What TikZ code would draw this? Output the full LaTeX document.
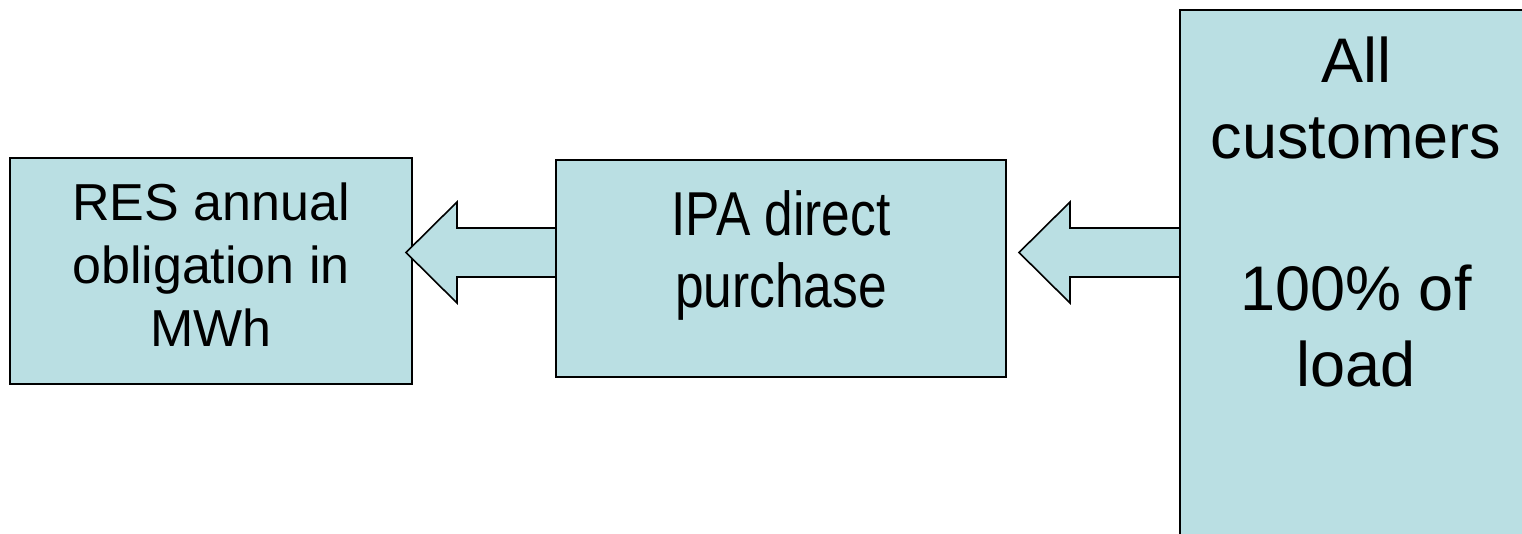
\documentclass[tikz,border=0pt]{standalone}
\usepackage{fontspec}
\setmainfont{Liberation Sans}
\newfontfamily\narrowfont[FakeStretch=0.83]{Liberation Sans}
\usetikzlibrary{calc}
\definecolor{boxfill}{HTML}{BADFE3}
\begin{document}
\begin{tikzpicture}[x=1pt,y=-1pt,
  box/.style={draw=black, line width=2.5pt, fill=boxfill, inner sep=0pt, outer sep=0pt},
  blockarrow/.style={draw=black, line width=1.6pt, fill=boxfill, line join=miter},
  label/.style={align=center, inner sep=0pt, text=black}]
\useasboundingbox (0,0) rectangle (1522,533);
\clip (0,0) rectangle (1522,533);

% boxes
\node[box, minimum width=402pt, minimum height=226pt] (b1) at (211,271) {};
\node[box, minimum width=450pt, minimum height=217pt] (b2) at (781,268.5) {};
\node[box, minimum width=365pt, minimum height=550pt] (b3) at (1362.5,285) {};

% box texts
\node[label, font=\fontsize{52}{63}\selectfont] (t1) at (211,264.5)
  {RES annual\\obligation in\\MWh};
\node[label, font=\narrowfont\fontsize{62}{72}\selectfont] (t2) at (781,255)
  {IPA direct\\purchase};
\node[label, font=\fontsize{63}{76}\selectfont] (t3) at (1356,212)
  {All\\customers\\[76pt]100\% of\\load};

% arrow tips
\coordinate (h1) at ([xshift=-6pt]b1.east |- 0,252.5);
\coordinate (h2) at ([xshift=13pt]b2.east |- 0,252.5);

% block arrows
\draw[blockarrow] ($(b2.west |- h1)+(-1.25,-24.5)$) -- ($(h1)+(51,-24.5)$)
  -- ($(h1)+(51,-50.5)$) -- (h1) -- ($(h1)+(51,50.5)$) -- ($(h1)+(51,24.5)$)
  -- ($(b2.west |- h1)+(-1.25,24.5)$);
\draw[blockarrow] ($(b3.west |- h2)+(-1.25,-24.5)$) -- ($(h2)+(51,-24.5)$)
  -- ($(h2)+(51,-50.5)$) -- (h2) -- ($(h2)+(51,50.5)$) -- ($(h2)+(51,24.5)$)
  -- ($(b3.west |- h2)+(-1.25,24.5)$);
\end{tikzpicture}
\end{document}
